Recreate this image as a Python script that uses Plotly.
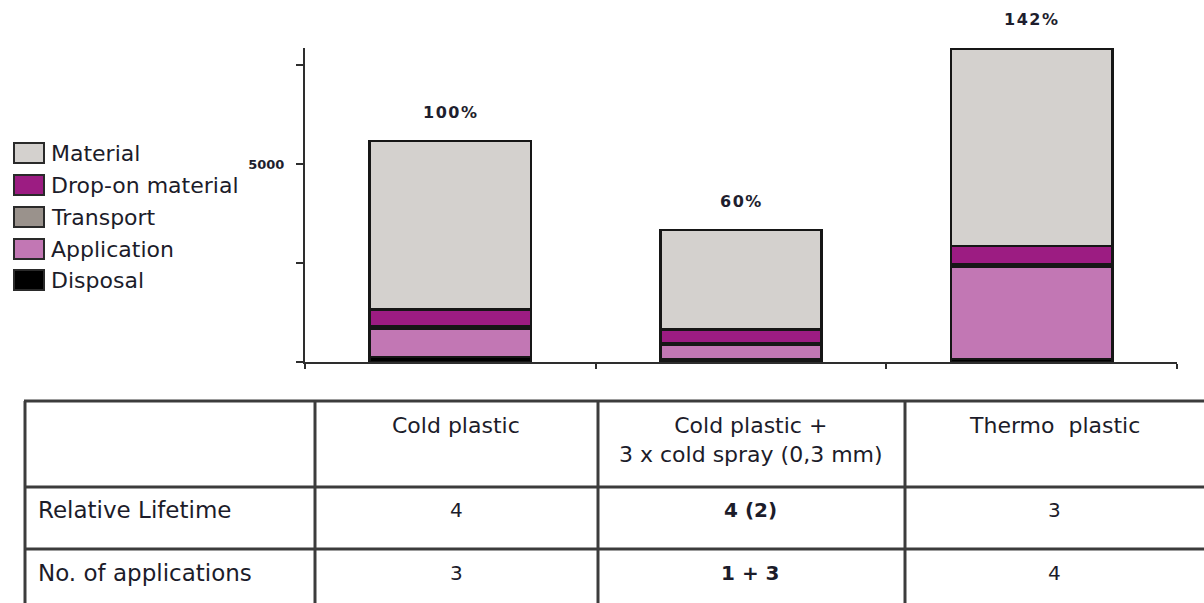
import plotly.graph_objects as go

# ---- data -----------------------------------------------------------------
systems = ["Cold plastic", "Cold plastic +\n3 x cold spray (0,3 mm)", "Thermo plastic"]
# stacked cost components, bottom to top
disposal = [130, 60, 80]
application = [720, 370, 2335]
transport = [50, 50, 45]
drop_on_material = [425, 340, 475]
material = [4255, 2510, 4985]

series = [
    ("Disposal", disposal, "#000000"),
    ("Application", application, "#c277b4"),
    ("Transport", transport, "#9a928c"),
    ("Drop-on material", drop_on_material, "#9c1c82"),
    ("Material", material, "#d4d1ce"),
]
legend_order = ["Material", "Drop-on material", "Transport", "Application", "Disposal"]

y_tick_values = [0, 2500, 5000, 7500]
y_tick_text = ["", "", "5000", ""]
y_max = 7930

table_header = ["Cold plastic", "Cold plastic +<br>3 x cold spray (0,3 mm)", "Thermo  plastic"]
row_labels = ["Relative Lifetime", "No. of applications"]
relative_lifetime = ["4", "4 (2)", "3"]
no_of_applications = ["3", "1 + 3", "4"]

# ---- page geometry helpers (pixel -> paper) ---------------------------------
W, H = 1204, 603


def px(x):
    return x / W


def py(y):
    return 1 - y / H


x_pos = list(range(len(systems)))
totals = [sum(v) for v in zip(*[s[1] for s in series])]
percent = [round(t / totals[0] * 100) for t in totals]

fig = go.Figure()
for name, vals, color in series:
    fig.add_trace(go.Bar(
        x=x_pos, y=vals, name=name, width=0.555,
        marker=dict(color=color, line=dict(color="#161616", width=2.4)),
        showlegend=False, hoverinfo="skip",
    ))

annotations = []
shapes = []

# percentage labels above each stack
for xi, t, p in zip(x_pos, totals, percent):
    annotations.append(dict(
        x=xi, y=t, xref="x", yref="y", yanchor="middle", yshift=29,
        text=f'<span style="letter-spacing:1.5px">{p}%</span>', showarrow=False,
        font=dict(family="DejaVu Sans", size=16, color="#1e1e2e", weight="bold"),
    ))

# legend (boxes + labels)
color_of = {n: c for n, _, c in series}
leg_y = [153, 185, 217, 249, 280]
for name, cy in zip(legend_order, leg_y):
    shapes.append(dict(type="rect", xref="paper", yref="paper",
                       x0=px(14), x1=px(44), y0=py(cy + 10), y1=py(cy - 10),
                       fillcolor=color_of[name], line=dict(color="#2a2a2a", width=2)))
    annotations.append(dict(x=px(49), y=py(cy), xref="paper", yref="paper",
                            xanchor="left", yanchor="middle", text=name, showarrow=False,
                            font=dict(family="DejaVu Sans", size=22, color="#1c1c2a")))

# comparison table below the chart
line_style = dict(color="#3c3c3c", width=3)
for yy in [401, 487, 549]:
    shapes.append(dict(type="line", xref="paper", yref="paper",
                       x0=px(24), x1=px(1204), y0=py(yy), y1=py(yy), line=line_style))
for xx in [25, 315, 598, 905]:
    shapes.append(dict(type="line", xref="paper", yref="paper",
                       x0=px(xx), x1=px(xx), y0=py(401), y1=py(603), line=line_style))

col_centers = [456, 751, 1054]
tfont = dict(family="DejaVu Sans", size=22, color="#1c1c2a")
for cx, head in zip(col_centers, table_header):
    annotations.append(dict(x=px(cx), y=py(411), xref="paper", yref="paper",
                            xanchor="center", yanchor="top", text=head, showarrow=False,
                            font=tfont))
for label, cy in zip(row_labels, [510, 573]):
    annotations.append(dict(x=px(36), y=py(cy), xref="paper", yref="paper",
                            xanchor="left", yanchor="middle", text=label, showarrow=False,
                            font=dict(family="DejaVu Sans", size=23, color="#1c1c2a")))
for row, cy in zip([relative_lifetime, no_of_applications], [510, 573]):
    for i, (cx, val) in enumerate(zip(col_centers, row)):
        annotations.append(dict(x=px(cx), y=py(cy), xref="paper", yref="paper",
                                xanchor="center", yanchor="middle", text=val, showarrow=False,
                                font=dict(family="DejaVu Sans", size=20, color="#1c1c2a",
                                          weight="bold" if i == 1 else "normal")))

axis_line = dict(showline=True, linecolor="#2e2e2e", linewidth=2, showgrid=False, zeroline=False)

fig.update_layout(
    width=W, height=H, margin=dict(l=0, r=0, t=0, b=0),
    paper_bgcolor="white", plot_bgcolor="white",
    barmode="stack", showlegend=False,
    xaxis=dict(domain=[px(305), px(1177)], range=[-0.5, 2.5],
               tickvals=[-0.5, 0.5, 1.5, 2.5], ticktext=["", "", "", ""],
               ticks="outside", ticklen=5, tickwidth=2, tickcolor="#2e2e2e", **axis_line),
    xaxis2=dict(domain=[px(305), px(1177)], range=[-0.5, 2.5], overlaying="x", anchor="y",
                tickvals=[0.5, 1.5, 2.5], ticktext=["", "", ""],
                ticks="inside", ticklen=4, tickwidth=2, tickcolor="#2e2e2e",
                showline=False, showgrid=False, zeroline=False),
    yaxis=dict(domain=[py(362), py(48)], range=[0, y_max],
               tickvals=y_tick_values, ticktext=y_tick_text,
               ticks="outside", ticklen=7, tickwidth=2, tickcolor="#2e2e2e",
               tickfont=dict(family="DejaVu Sans", size=13, color="#1e1e2e", weight="bold"),
               ticklabelstandoff=9, **axis_line),
    annotations=annotations, shapes=shapes,
)

fig.write_html("out.html")
